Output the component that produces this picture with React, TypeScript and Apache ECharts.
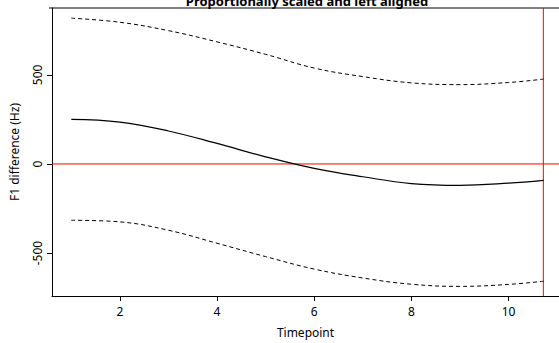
import React, { useEffect, useRef } from "react";
import * as echarts from "echarts";

const xValues = [1, 2, 3, 4, 5, 6, 7, 8, 9, 10, 10.72];
const fitValues = [250, 235, 185, 115, 40, -25, -72, -110, -120, -108, -92];
const upperValues = [818, 795, 748, 685, 615, 538, 490, 455, 445, 457, 476];
const lowerValues = [-316, -325, -372, -445, -520, -590, -640, -675, -687, -676, -658];
const xTicks = [2, 4, 6, 8, 10];
const yTicks = [-500, 0, 500];
const zeroLineValue = 0;
const verticalMarker = 10.716;

const X_MIN = 0.603;
const X_MAX = 11.038;
const Y_MIN = -741;
const Y_MAX = 875;

const FONT = "Noto Sans";

export default function App() {
  const ref = useRef<HTMLDivElement>(null);
  useEffect(() => {
    if (!ref.current) return;
    const chart = echarts.init(ref.current, undefined, { renderer: "svg" });
    const pair = (ys: number[]) => xValues.map((x, i) => [x, ys[i]]);
    const lineBase = {
      type: "line" as const,
      showSymbol: false,
      smooth: 0.4,
      silent: true,
    };
    chart.setOption({
      animation: false,
      backgroundColor: "#fff",
      textStyle: { fontFamily: FONT },
      grid: {
        left: 49,
        top: 8,
        right: 0,
        bottom: 45,
        show: false,
        containLabel: false,
      },
      graphic: [
        {
          type: "text",
          x: 307,
          y: 7,
          style: {
            text: "Proportionally scaled and left aligned",
            fontFamily: FONT,
            fontWeight: "bold",
            fontSize: 13,
            fill: "#000",
            textAlign: "center",
            textVerticalAlign: "bottom",
          },
        },
        {
          type: "line",
          shape: { x1: 49, y1: 8, x2: 559, y2: 8 },
          style: { stroke: "#000", lineWidth: 1 },
        },
      ],
      xAxis: {
        type: "value",
        min: X_MIN,
        max: X_MAX,
        name: "Timepoint",
        nameLocation: "middle",
        nameGap: 30,
        nameTextStyle: { fontFamily: FONT, fontSize: 12, color: "#000" },
        axisLine: { show: true, onZero: false, lineStyle: { color: "#000", width: 1 } },
        axisTick: {
          show: true,
          length: 5,
          inside: false,
          customValues: xTicks,
          lineStyle: { color: "#000" },
        },
        axisLabel: {
          customValues: xTicks,
          margin: 9,
          fontFamily: FONT,
          fontSize: 12,
          color: "#000",
        },
        splitLine: { show: false },
      },
      yAxis: {
        type: "value",
        min: Y_MIN,
        max: Y_MAX,
        name: "F1 difference (Hz)",
        nameLocation: "middle",
        nameGap: 32,
        nameRotate: 90,
        nameTextStyle: { fontFamily: FONT, fontSize: 12, color: "#000" },
        axisLine: { show: true, onZero: false, lineStyle: { color: "#000", width: 1 } },
        axisTick: {
          show: true,
          length: 5,
          inside: false,
          customValues: yTicks,
          lineStyle: { color: "#000" },
        },
        axisLabel: {
          customValues: yTicks,
          rotate: 90,
          margin: 9,
          fontFamily: FONT,
          fontSize: 12,
          color: "#000",
        },
        splitLine: { show: false },
      },
      series: [
        {
          ...lineBase,
          name: "zero",
          smooth: false,
          data: [
            [X_MIN, zeroLineValue],
            [X_MAX, zeroLineValue],
          ],
          lineStyle: { color: "#ff0000", width: 1, type: "solid" },
          itemStyle: { color: "#ff0000" },
        },
        {
          ...lineBase,
          name: "marker",
          smooth: false,
          data: [
            [verticalMarker, Y_MIN],
            [verticalMarker, Y_MAX],
          ],
          lineStyle: { color: "#ff0000", width: 1, type: "solid" },
          itemStyle: { color: "#ff0000" },
        },
        {
          ...lineBase,
          name: "upper",
          data: pair(upperValues),
          lineStyle: { color: "#000", width: 1, type: [4, 3] },
          itemStyle: { color: "#000" },
        },
        {
          ...lineBase,
          name: "lower",
          data: pair(lowerValues),
          lineStyle: { color: "#000", width: 1, type: [4, 3] },
          itemStyle: { color: "#000" },
        },
        {
          ...lineBase,
          name: "fit",
          data: pair(fitValues),
          lineStyle: { color: "#000", width: 1.2, type: "solid" },
          itemStyle: { color: "#000" },
        },
      ],
    });
    return () => chart.dispose();
  }, []);
  return (
    <div
      ref={ref}
      style={{ position: "fixed", left: 0, top: 0, width: 559, height: 343 }}
    />
  );
}
